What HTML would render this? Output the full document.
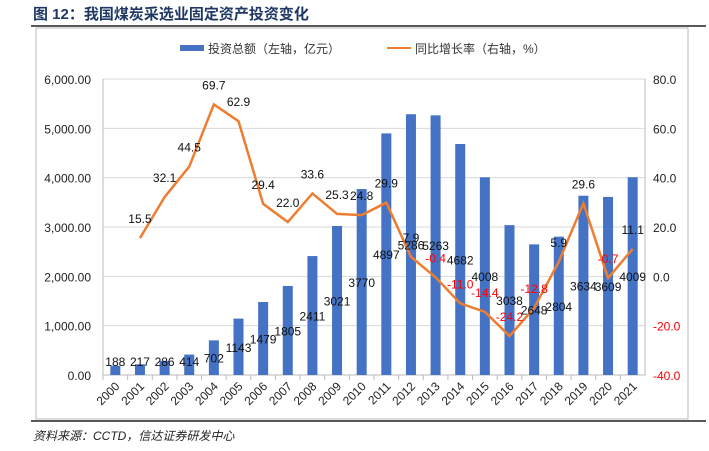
<!DOCTYPE html>
<html><head><meta charset="utf-8"><style>
body{margin:0;background:#fff;width:709px;height:446px;overflow:hidden;font-family:"Liberation Sans","Noto Sans CJK SC",sans-serif}
</style></head><body>
<svg id="c" width="709" height="446" xmlns="http://www.w3.org/2000/svg">
<text x="33" y="19" font-size="15" font-weight="bold" fill="#1f3864" font-family="Liberation Sans,Noto Sans CJK SC,sans-serif">图 12：我国煤炭采选业固定资产投资变化</text>
<line x1="31" y1="26" x2="706" y2="26" stroke="#222" stroke-width="1.5"/>
<rect x="36" y="28" width="652" height="391" fill="none" stroke="#bbb"/>
<line x1="31" y1="421" x2="706" y2="421" stroke="#222" stroke-width="1.5"/>
<text x="33" y="440" font-size="12" font-style="italic" fill="#222">资料来源：CCTD，信达证券研发中心</text>
<g>
<rect x="180" y="45" width="24" height="6" fill="#4472c4"/>
<text x="208" y="53" font-size="12" fill="#333">投资总额（左轴，亿元）</text>
<line x1="387" y1="48" x2="411" y2="48" stroke="#ed7d31" stroke-width="2"/>
<text x="415" y="53" font-size="12" fill="#333">同比增长率（右轴，%）</text>
</g>
<g id="g"></g>
</svg>
<script>
const years=["2000","2001","2002","2003","2004","2005","2006","2007","2008","2009","2010","2011","2012","2013","2014","2015","2016","2017","2018","2019","2020","2021"];
const invest=[188,217,286,414,702,1143,1479,1805,2411,3021,3770,4897,5286,5263,4682,4008,3038,2648,2804,3634,3609,4009];
const growth=[null,15.5,32.1,44.5,69.7,62.9,29.4,22.0,33.6,25.3,24.8,29.9,7.9,-0.4,-11.0,-14.4,-24.2,-12.8,5.9,29.6,-0.7,11.1];
const leftTicks=[0,1000,2000,3000,4000,5000,6000];
const rightTicks=[-40,-20,0,20,40,60,80];
const L=103,R=645,T=79,B=375;
const ns="http://www.w3.org/2000/svg",g=document.getElementById('g');
const bw=(R-L)/years.length;
const xc=i=>L+bw*(i+0.5);
const yl=v=>B-(v/6000)*(B-T);
const yr=v=>B-((v+40)/120)*(B-T);
function mk(t,a,txt){const e=document.createElementNS(ns,t);for(const k in a)e.setAttribute(k,a[k]);if(txt!==undefined)e.textContent=txt;g.appendChild(e);return e;}
leftTicks.forEach(v=>{
 if(v>0){const gl=mk('line',{x1:L,x2:R,y1:yl(v),y2:yl(v),stroke:'#d9d9d9'});
 
 }
 const t=mk('text',{x:L-12,y:yl(v)+5,'font-size':12,'text-anchor':'end',fill:'#222'},v.toLocaleString('en-US',{minimumFractionDigits:2}));
 
 
});
rightTicks.forEach(v=>{
 const t=mk('text',{x:R+8,y:yr(v)+5,'font-size':12,fill:v<0?'#ff0000':'#222'},v.toFixed(1));
 
 
});
const ax=mk('path',{d:`M${L},${T}V${B}H${R}V${T}`,fill:'none',stroke:'#bbb'});


years.forEach((y,i)=>{
 const tk=mk('line',{x1:L+bw*i,x2:L+bw*i,y1:B,y2:B+5,stroke:'#bbb'});
 
 
 const b=mk('rect',{x:xc(i)-5,y:yl(invest[i]),width:10,height:B-yl(invest[i]),fill:'#4472c4'});
 
 
 const xl=mk('text',{x:xc(i)+5,y:B+12,'font-size':12,'text-anchor':'end',fill:'#222',transform:`rotate(-45 ${xc(i)+5} ${B+12})`},y);
 
 
});
let d='';growth.forEach((v,i)=>{if(v===null)return;d+=(d?'L':'M')+xc(i)+','+yr(v);});
const ln=mk('path',{d:d,fill:'none',stroke:'#ed7d31','stroke-width':2.5});


years.forEach((y,i)=>{
 const ly=Math.min(yl(invest[i]/2),B-14)+5;
 const t=mk('text',{x:xc(i),y:ly,'font-size':12,'text-anchor':'middle',fill:'#111'},invest[i]);
 
 
 if(growth[i]!==null){
 const s=mk('text',{x:xc(i),y:yr(growth[i])-15,'font-size':12,'text-anchor':'middle',fill:growth[i]<0?'#ff0000':'#111'},growth[i].toFixed(1));
 
 }
});
</script>
</body></html>
